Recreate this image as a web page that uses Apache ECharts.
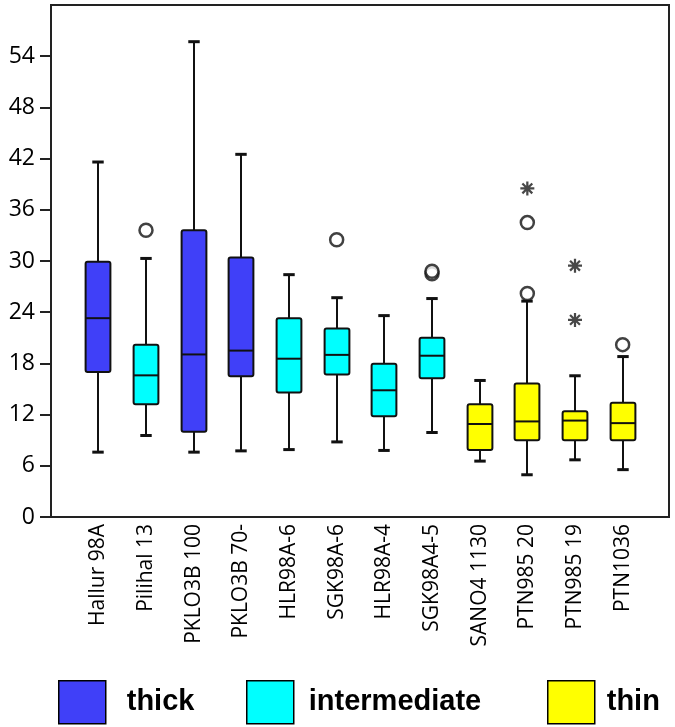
<!DOCTYPE html>
<html>
<head>
<meta charset="utf-8">
<script src="https://cdn.jsdelivr.net/npm/echarts@6/dist/echarts.min.js"></script>
<style>
html,body{margin:0;padding:0;background:#fff;}
#main{width:675px;height:727px;}
</style>
</head>
<body>
<div id="main"></div>
<script>
// ---- data ----
var categories = ['Hallur 98A','Pilihal 13','PKLO3B 100','PKLO3B 70-','HLR98A-6','SGK98A-6','HLR98A-4','SGK98A4-5','SANO4 1130','PTN985 20','PTN985 19','PTN1036'];
var groups = ['thick','intermediate','thick','thick','intermediate','intermediate','intermediate','intermediate','thin','thin','thin','thin'];
// [min, Q1, median, Q3, max]
var boxStats = [
  [7.6, 17.0, 23.3, 29.9, 41.6],
  [9.55, 13.2, 16.6, 20.2, 30.3],
  [7.6, 10.0, 19.05, 33.6, 55.7],
  [7.75, 16.5, 19.5, 30.4, 42.5],
  [7.9, 14.6, 18.55, 23.3, 28.4],
  [8.8, 16.7, 19.0, 22.1, 25.7],
  [7.8, 11.8, 14.85, 17.95, 23.6],
  [9.9, 16.25, 18.9, 21.0, 25.6],
  [6.55, 7.85, 10.9, 13.2, 16.0],
  [4.95, 9.0, 11.2, 15.65, 25.3],
  [6.7, 9.0, 11.3, 12.4, 16.55],
  [5.55, 9.0, 11.0, 13.4, 18.8]
];
// outliers [categoryIndex, value]
var outliers = [[1, 33.6],[5, 32.5],[7, 28.5],[7, 28.8],[9, 34.5],[9, 26.2],[11, 20.2]];
// extreme values [categoryIndex, value]
var extremes = [[9, 38.5],[10, 29.45],[10, 23.1]];
var yTicks = [0, 6, 12, 18, 24, 30, 36, 42, 48, 54];
var groupNames = ['thick','intermediate','thin'];
var groupColors = {thick:'#4040f8', intermediate:'#00ffff', thin:'#ffff00'};

// ---- chart ----
var chart = echarts.init(document.getElementById('main'), null, {renderer:'canvas'});

function renderBox(params, api){
  var x = api.value(0);
  var lo = api.coord([x, api.value(1)]);
  var q1 = api.coord([x, api.value(2)]);
  var md = api.coord([x, api.value(3)]);
  var q3 = api.coord([x, api.value(4)]);
  var hi = api.coord([x, api.value(5)]);
  var band = api.size([1, 0])[0];
  var bw = band * 0.52, cw = band * 0.24;
  var cx = Math.round(lo[0]);
  var lineStyle = {stroke:'#111', lineWidth:2};
  var capStyle = {stroke:'#111', lineWidth:3};
  return {
    type:'group',
    children:[
      {type:'line', shape:{x1:cx, y1:hi[1], x2:cx, y2:q3[1]}, style:lineStyle},
      {type:'line', shape:{x1:cx, y1:q1[1], x2:cx, y2:lo[1]}, style:lineStyle},
      {type:'line', shape:{x1:cx-cw/2, y1:hi[1], x2:cx+cw/2, y2:hi[1]}, style:capStyle},
      {type:'line', shape:{x1:cx-cw/2, y1:lo[1], x2:cx+cw/2, y2:lo[1]}, style:capStyle},
      {type:'rect', shape:{x:cx-bw/2, y:q3[1], width:bw, height:q1[1]-q3[1], r:2},
        style:{fill:api.visual('color'), stroke:'#111', lineWidth:2}},
      {type:'line', shape:{x1:cx-bw/2, y1:md[1], x2:cx+bw/2, y2:md[1]}, style:{stroke:'#111', lineWidth:2}}
    ]
  };
}

var series = groupNames.map(function(g){
  var data = [];
  categories.forEach(function(c, i){
    if (groups[i] === g) data.push([i].concat(boxStats[i]));
  });
  return {
    name:g, type:'custom', xAxisIndex:1, yAxisIndex:1,
    itemStyle:{color:groupColors[g], borderColor:'#000', borderWidth:1.5},
    encode:{x:0, y:[1,2,3,4,5]},
    renderItem:renderBox,
    data:data, z:3
  };
});

var starPath = 'path://M-1.6,-10 L1.6,-10 L1.6,10 L-1.6,10 Z M-10,1.6 L-10,-1.6 L10,-1.6 L10,1.6 Z M-8.2,-5.94 L-5.94,-8.2 L8.2,5.94 L5.94,8.2 Z M-5.94,8.2 L-8.2,5.94 L5.94,-8.2 L8.2,-5.94 Z';

series.push({
  name:'outlier', type:'scatter', xAxisIndex:1, yAxisIndex:1,
  symbol:'circle', symbolSize:13,
  itemStyle:{color:'#fff', borderColor:'#111', borderWidth:2.5},
  data:outliers, z:4
});
series.push({
  name:'extreme', type:'scatter', xAxisIndex:1, yAxisIndex:1,
  symbol:starPath, symbolSize:14,
  itemStyle:{color:'#1a1a1a'},
  data:extremes, z:4
});

function legendFor(name, left, pad){
  return {
    data:[name], left:left, top:680, orient:'horizontal', padding:0,
    itemWidth:47, itemHeight:43, selectedMode:false,
    icon:'rect',
    itemStyle:{borderColor:'#000', borderWidth:1.5},
    textStyle:{fontSize:29, fontWeight:'bold', fontFamily:'Liberation Sans', color:'#000', padding:[0,0,0,pad]}
  };
}

var option = {
  backgroundColor:'#fff',
  animation:false,
  grid:[
    {left:51, right:6, top:5, bottom:210, show:true, borderColor:'#222', borderWidth:2, backgroundColor:'transparent'},
    {left:74.5, right:28.5, top:5, bottom:210}
  ],
  xAxis:[
    {gridIndex:0, type:'value', min:0, max:1, show:false},
    {gridIndex:1, type:'category', data:categories, boundaryGap:true,
      axisLine:{show:false}, axisTick:{show:false},
      axisLabel:{rotate:90, fontSize:21, fontFamily:'Open Sans', color:'#000', margin:7, interval:0}}
  ],
  yAxis:[
    {gridIndex:0, type:'value', min:0, max:60, interval:6,
      axisLine:{show:true, lineStyle:{color:'#222', width:2}},
      axisTick:{show:true, length:11, customValues:yTicks, lineStyle:{color:'#222', width:2}},
      axisLabel:{fontSize:23, fontFamily:'Open Sans', color:'#000', margin:16, customValues:yTicks},
      splitLine:{show:false}},
    {gridIndex:1, type:'value', min:0, max:60, show:false, splitLine:{show:false}}
  ],
  legend:[legendFor('thick', 58, 16), legendFor('intermediate', 246, 10), legendFor('thin', 547, 7)],
  series:series
};
chart.setOption(option);
</script>
</body>
</html>
